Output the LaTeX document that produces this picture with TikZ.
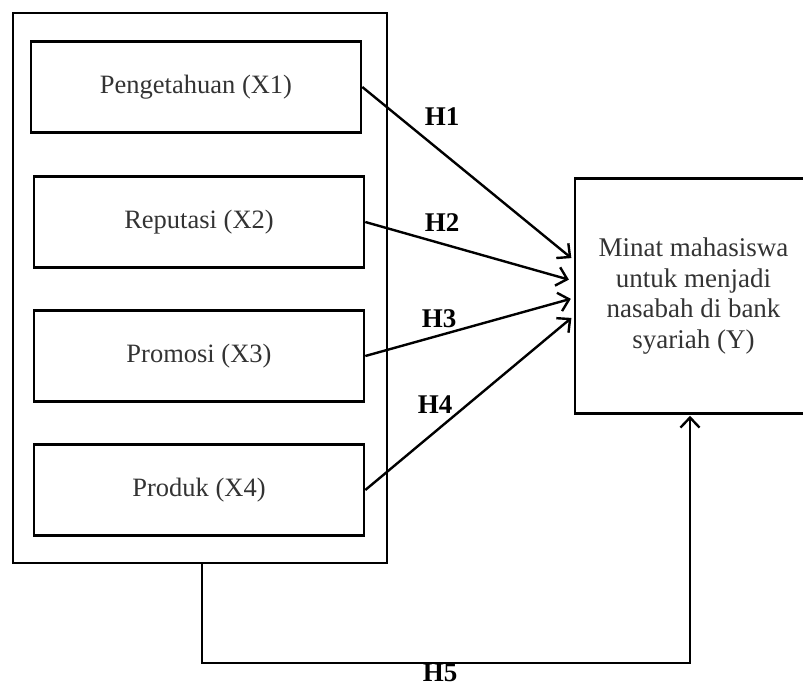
\documentclass[tikz,border=0pt]{standalone}
\usepackage{fontspec}
\setmainfont{Liberation Serif}
\usetikzlibrary{arrows.meta}

\begin{document}
\begin{tikzpicture}[x=1pt,y=-1pt,
    varbox/.style={draw,line width=2.6pt,minimum width=330pt,minimum height=91pt,inner sep=0pt,
      text=black!80,font=\fontsize{26.5}{28}\selectfont},
    hlab/.style={font=\bfseries\fontsize{27}{28}\selectfont},
    arr/.style={line width=2.4pt,-{Straight Barb[length=10pt,width=19pt,line width=2.4pt]}}]
  \useasboundingbox (0,0) rectangle (803,686);
  \clip (0,0) rectangle (803,686);
  % outer frame round the four variables
  \node[draw,line width=2.6pt,minimum width=374pt,minimum height=550pt,inner sep=0pt] (outer) at (200,288) {};
  \node[varbox] (x1) at (196,87) {Pengetahuan (X1)};
  \node[varbox] (x2) at (199,222) {Reputasi (X2)};
  \node[varbox] (x3) at (199,356) {Promosi (X3)};
  \node[varbox] (x4) at (199,490) {Produk (X4)};
  % dependent variable (runs past the right edge)
  \node[draw,line width=2.6pt,minimum width=237pt,minimum height=235pt,inner sep=0pt,align=center,
    text=black!80,font=\fontsize{27}{30.5}\selectfont] (y) at (693.5,296)
    {Minat mahasiswa\\untuk menjadi\\nasabah di bank\\syariah (Y)};
  % partial hypotheses
  \draw[arr,shorten >=3pt] (x1.east) -- ([yshift=36pt]y.west);
  \draw[arr,shorten >=5pt] (x2.east) -- ([yshift=15pt]y.west);
  \draw[arr,shorten >=3pt] (x3.east) -- ([yshift=-2pt]y.west);
  \draw[arr,shorten >=3pt] (x4.east) -- ([yshift=-20pt]y.west);
  \node[hlab] (h1) at (442,117) {H1};
  \node[hlab] (h2) at (442,223) {H2};
  \node[hlab] (h3) at (439,319) {H3};
  \node[hlab] (h4) at (435,405) {H4};
  % simultaneous hypothesis
  \coordinate (corner) at (202,663);
  \draw[arr,shorten >=1pt] ([xshift=2pt]outer.south) -- (corner) -| ([xshift=-3.5pt]y.south);
  \node[hlab] (h5) at (440,673) {H5};
\end{tikzpicture}
\end{document}
